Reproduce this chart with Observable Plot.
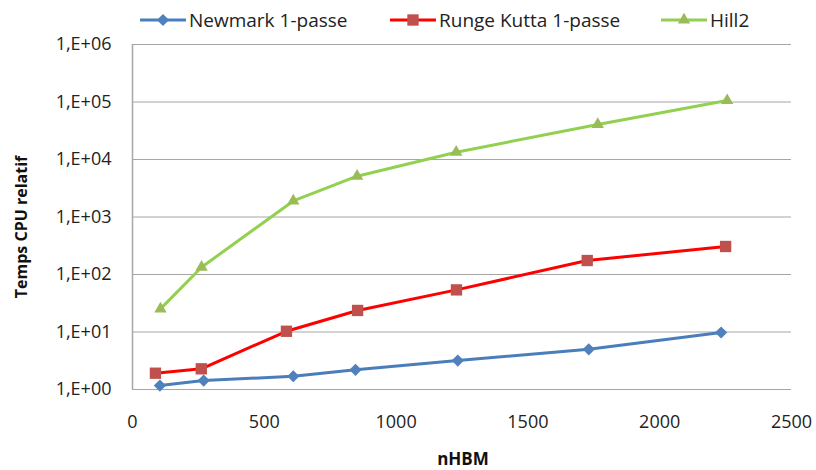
<!DOCTYPE html>
<html><head><meta charset="utf-8">
<script src="https://cdn.jsdelivr.net/npm/d3@7"></script>
<script src="https://cdn.jsdelivr.net/npm/@observablehq/plot@0.6"></script>
<style>
body{margin:0;background:#fff;font-family:"Open Sans",sans-serif;}
#wrap{width:816px;height:470px;position:relative;overflow:hidden;background:#fff}
#legend{position:relative;height:36px;}
.item{position:absolute;top:7px;display:flex;align-items:center;font-size:19px;color:#222;line-height:26px;white-space:nowrap}
.item svg{margin-right:3px}
</style></head><body>
<div id="wrap"><div id="legend"></div><div id="chart"></div></div>
<script>
// ---- data ----
const seriesNames = ["Newmark 1-passe", "Runge Kutta 1-passe", "Hill2"];
const newmarkX = [104, 270, 610, 846, 1234, 1731, 2233];
const newmarkY = [1.17, 1.43, 1.70, 2.20, 3.19, 5.0, 9.8];
const rungeX = [87, 261, 584, 854, 1229, 1725, 2250];
const rungeY = [1.92, 2.29, 10.3, 23.7, 54, 175, 307];
const hillX = [106, 262, 610, 852, 1228, 1765, 2256];
const hillY = [25.3, 134, 1900, 5130, 13400, 40600, 106000];
const xTicks = [0, 500, 1000, 1500, 2000, 2500];
const xTickLabels = ["0", "500", "1000", "1500", "2000", "2500"];
const yTicks = [1, 10, 100, 1000, 10000, 100000, 1000000];
const yTickLabels = ["1,E+00", "1,E+01", "1,E+02", "1,E+03", "1,E+04", "1,E+05", "1,E+06"];
const xTitle = "nHBM";
const yTitle = "Temps CPU relatif";

// ---- styles ----
const lineColors = ["#4A7EBB", "#FF0000", "#92D050"];
const markColors = ["#4F81BD", "#C0504D", "#9BBB59"];
const symbols = ["diamond2", "square", "triangle"];
const radii = [5.5, 6.4, 4.6];
const legendLeft = [140, 390, 661];
const d3Symbols = [d3.symbolDiamond2, d3.symbolSquare, d3.symbolTriangle];

const xs = [newmarkX, rungeX, hillX];
const ys = [newmarkY, rungeY, hillY];
const series = seriesNames.map((name, i) => xs[i].map((x, j) => ({series: name, x, y: ys[i][j]})));

// ---- legend ----
const legend = d3.select("#legend");
seriesNames.forEach((name, i) => {
  const item = legend.append("div").attr("class", "item").style("left", legendLeft[i] + "px");
  const svg = item.append("svg").attr("width", 46).attr("height", 20);
  svg.append("line").attr("x1", 0).attr("x2", 46).attr("y1", 10).attr("y2", 10)
    .attr("stroke", lineColors[i]).attr("stroke-width", 3);
  svg.append("path").attr("transform", "translate(23,10)")
    .attr("d", d3.symbol(d3Symbols[i], Math.PI * radii[i] * radii[i])())
    .attr("fill", markColors[i]);
  item.append("span").text(name);
});

// ---- chart ----
const marks = [
  Plot.ruleY(yTicks, {stroke: "#a6a6a6", strokeWidth: 1}),
  Plot.ruleX([0], {y1: 1, y2: 1000000, stroke: "#a6a6a6", strokeWidth: 1.5}),
];
series.forEach((data, i) => {
  marks.push(Plot.line(data, {x: "x", y: "y", stroke: lineColors[i], strokeWidth: 3, strokeLinejoin: "round"}));
});
series.forEach((data, i) => {
  marks.push(Plot.dot(data, {x: "x", y: "y", symbol: () => symbols[i], fill: markColors[i], r: radii[i], stroke: "none"}));
});
marks.push(
  Plot.text([xTitle], {text: d => d, frameAnchor: "bottom", textAnchor: "middle", lineAnchor: "top", dy: 63, dx: 1, fontWeight: "bold", fontSize: 17, fill: "#111"}),
  Plot.text([yTitle], {text: d => d, frameAnchor: "left", textAnchor: "middle", lineAnchor: "middle", rotate: -90, dx: -111, dy: 10, fontWeight: "bold", fontSize: 16, fill: "#111"})
);

const chart = Plot.plot({
  width: 816,
  height: 434,
  marginTop: 8,
  marginLeft: 132,
  marginRight: 25,
  marginBottom: 81,
  style: {fontFamily: "'Open Sans', sans-serif", fontSize: "18px", color: "#222", background: "#fff", overflow: "visible"},
  x: {domain: [0, 2500], ticks: xTicks, tickFormat: d => xTickLabels[xTicks.indexOf(d)], tickSize: 0, tickPadding: 26, label: null, line: false},
  y: {type: "log", domain: [1, 1000000], ticks: yTicks, tickFormat: d => yTickLabels[yTicks.indexOf(d)], tickSize: 0, tickPadding: 21, label: null},
  symbol: {type: "identity"},
  marks
});
document.getElementById("chart").appendChild(chart);
</script>
</body></html>
